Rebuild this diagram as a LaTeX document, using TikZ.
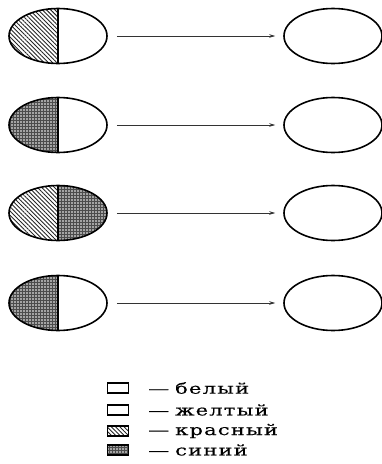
\documentclass[tikz,border=0pt]{standalone}
\usepackage{fontspec}
\newfontfamily\legfont[LetterSpace=8,FakeStretch=1.4,FakeBold=0.3]{DejaVu Serif}
\usetikzlibrary{shapes.geometric,patterns,patterns.meta,arrows.meta}
\tikzset{
  egg/.style={ellipse, draw=black, line width=1.6pt, minimum width=98pt, minimum height=55pt, inner sep=0pt},
  halves/.style 2 args={path picture={
      \fill[#1] (path picture bounding box.south west) rectangle (path picture bounding box.north);
      \fill[#2] (path picture bounding box.south) rectangle (path picture bounding box.north east);
      \draw[line width=1.4pt] (path picture bounding box.south) -- (path picture bounding box.north);}},
  stripes/.style={pattern={Lines[angle=-45,distance=3pt,line width=0.9pt]}, pattern color=black!85},
  dots/.style={preaction={fill=black!70}, pattern={Dots[radius=0.8pt,distance=3pt]}, pattern color=white},
  blank/.style={fill=white},
  flow/.style={-{Stealth[length=6pt,width=3.5pt]}, line width=0.6pt, black!80, shorten <=9pt, shorten >=8pt},
  keybox/.style={draw=black, line width=1.6pt, minimum width=21pt, minimum height=10pt, inner sep=0pt},
  keytext/.style={anchor=west, inner sep=0pt, font=\legfont\fontsize{15}{15}\selectfont}
}
\begin{document}
\begin{tikzpicture}[x=1pt,y=-1pt]
\useasboundingbox (0,0) rectangle (382,464);
% left ellipses
\node[egg, halves={stripes}{blank}] (L1) at (58,36) {};
\node[egg, halves={dots}{blank}] (L2) at (58,125) {};
\node[egg, halves={stripes}{dots}] (L3) at (58,213) {};
\node[egg, halves={dots}{blank}] (L4) at (58,303) {};
% right ellipses
\node[egg] (R1) at (333,36) {};
\node[egg] (R2) at (333,125) {};
\node[egg] (R3) at (333,213) {};
\node[egg] (R4) at (333,303) {};
% arrows
\draw[flow] (L1) -- (R1);
\draw[flow] (L2) -- (R2);
\draw[flow] (L3) -- (R3);
\draw[flow] (L4) -- (R4);
% legend
\node[keybox] (k1) at (118,388) {};
\node[keybox] (k2) at (118,410) {};
\node[keybox, stripes] (k3) at (118,431) {};
\node[keybox, dots] (k4) at (118,450) {};
\node[keytext] (t1) at (148,388) {—\hspace{6pt}белый};
\node[keytext] (t2) at (148,410) {—\hspace{6pt}желтый};
\node[keytext] (t3) at (148,431) {—\hspace{6pt}красный};
\node[keytext] (t4) at (148,450) {—\hspace{6pt}синий};
\end{tikzpicture}
\end{document}
